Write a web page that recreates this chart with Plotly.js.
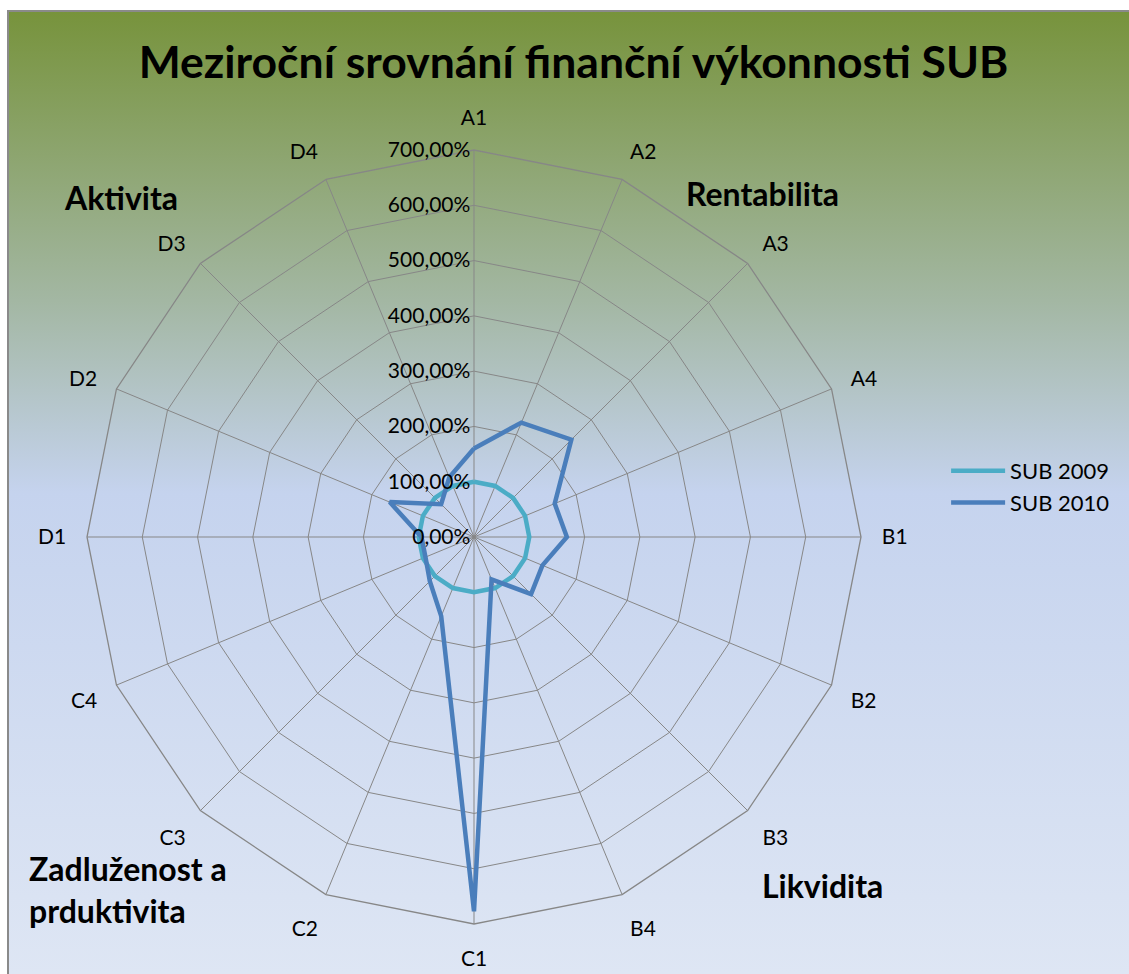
<!DOCTYPE html>
<html>
<head>
<meta charset="utf-8">
<script src="https://cdn.plot.ly/plotly-3.0.1.min.js"></script>
<style>
  html, body { margin: 0; padding: 0; background: #ffffff; }
  #bg { position: absolute; left: 7px; top: 10px; width: 1122px; height: 964px;
        border-left: 2px solid #8a8a8a; border-top: 2px solid #8a8a8a; box-sizing: border-box;
        background: linear-gradient(to bottom, #77933C 0%, #A3B7A3 30%, #C5D3EE 50%, #DEE6F4 100%); }
  #chart { position: absolute; left: 0; top: 0; width: 1129px; height: 974px; }
</style>
</head>
<body>
<div id="bg"></div>
<div id="chart"></div>
<script>
const categories = ["A1","A2","A3","A4","B1","B2","B3","B4","C1","C2","C3","C4","D1","D2","D3","D4"];
const sub2009 = [100,100,100,100,100,100,100,100,100,100,100,100,100,100,100,100];
const sub2010 = [160,224,249,158,168,134,146,83,677,155,113,95,95,165,84,117];
const radialTicks = [0,100,200,300,400,500,600,700];
const radialTickLabels = ["0,00%","100,00%","200,00%","300,00%","400,00%","500,00%","600,00%","700,00%"];
const groupLabels = ["Aktivita","Rentabilita","Zadluženost a<br>prduktivita","Likvidita"];

function closed(arr){ return arr.concat([arr[0]]); }

const font = "Lato, 'Open Sans', 'DejaVu Sans', sans-serif";

const traces = [
  {type:'scatterpolar', mode:'lines', name:'SUB 2009', legendgroup:'a',
   r: closed(sub2009), theta: closed(categories),
   line:{color:'#4BACC6', width:4.5}},
  {type:'scatterpolar', mode:'lines', name:'SUB 2010', legendgroup:'b',
   r: closed(sub2010), theta: closed(categories),
   line:{color:'#4A7EBB', width:4.5}}
];

const layout = {
  width:1129, height:974,
  margin:{l:0,r:0,t:0,b:0},
  paper_bgcolor:'rgba(0,0,0,0)',
  font:{family:font, size:21, color:'#000'},
  title:{text:'<b>Meziroční srovnání finanční výkonnosti SUB</b>', x:0.508, xanchor:'center', y:0.936, yanchor:'middle',
         font:{family:font, size:44.5, color:'#000'}},
  showlegend:true,
  legend:{x:0.838, xanchor:'left', y:0.5, yanchor:'middle', bgcolor:'rgba(0,0,0,0)', itemwidth:54,
          font:{family:font, size:22}, tracegroupgap:18, traceorder:'normal'},
  polar:{
    domain:{x:[(474-387)/1129,(474+387)/1129], y:[(437-387)/974,(437+387)/974]},
    bgcolor:'rgba(0,0,0,0)',
    gridshape:'linear',
    radialaxis:{range:[0,700], tickmode:'array', tickvals:radialTicks, ticktext:radialTickLabels,
                angle:90, tickangle:90, side:'counterclockwise', showline:false, ticks:'',
                gridcolor:'#878787', gridwidth:1.3, tickfont:{family:font, size:21}},
    angularaxis:{direction:'clockwise', rotation:90, categoryarray:categories, categoryorder:'array',
                 gridcolor:'#878787', gridwidth:1.3, linecolor:'#878787', linewidth:1.3, showline:true,
                 ticks:'outside', ticklen:16, tickcolor:'rgba(0,0,0,0)', tickfont:{family:font, size:21}}
  },
  annotations:[
    {text:'<b>'+groupLabels[0]+'</b>', x:62/1129, y:1-198/974, xref:'paper', yref:'paper', xanchor:'left', yanchor:'middle', showarrow:false, font:{family:font,size:32}},
    {text:'<b>'+groupLabels[1]+'</b>', x:684/1129, y:1-193/974, xref:'paper', yref:'paper', xanchor:'left', yanchor:'middle', showarrow:false, font:{family:font,size:32}},
    {text:'<b>'+groupLabels[2]+'</b>', x:27/1129, y:1-889/974, xref:'paper', yref:'paper', xanchor:'left', yanchor:'middle', align:'left', showarrow:false, font:{family:font,size:32}},
    {text:'<b>'+groupLabels[3]+'</b>', x:760/1129, y:1-885/974, xref:'paper', yref:'paper', xanchor:'left', yanchor:'middle', showarrow:false, font:{family:font,size:32}}
  ]
};

Plotly.newPlot('chart', traces, layout, {displayModeBar:false});
</script>
</body>
</html>
